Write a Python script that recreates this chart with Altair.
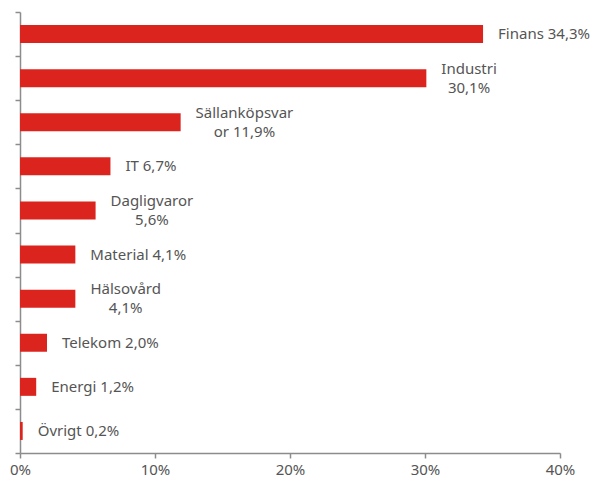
import altair as alt
import pandas as pd

categories = ["Finans", "Industri", "Sällanköpsvar", "IT", "Dagligvaror",
              "Material", "Hälsovård", "Telekom", "Energi", "Övrigt"]
values = [34.3, 30.1, 11.9, 6.7, 5.6, 4.1, 4.1, 2.0, 1.2, 0.2]
labels = ["Finans 34,3%", "Industri\n30,1%", "Sällanköpsvar\nor 11,9%", "IT 6,7%",
          "Dagligvaror\n5,6%", "Material 4,1%", "Hälsovård\n4,1%", "Telekom 2,0%",
          "Energi 1,2%", "Övrigt 0,2%"]
x_ticks = [0, 10, 20, 30, 40]

W, H = 540, 441
FONT = "Noto Sans"
FS = 15
GAP = 15
LH = 19
XMAX = 40

# approximate Noto Sans advance widths (per 1000 em) for centring wrapped labels
adv = {'a': 561, 'b': 615, 'c': 480, 'd': 615, 'e': 564, 'f': 344, 'g': 615, 'h': 618,
       'i': 258, 'k': 534, 'l': 258, 'm': 935, 'n': 618, 'o': 605, 'p': 615, 'r': 413,
       's': 479, 't': 361, 'u': 618, 'v': 508, 'y': 508, 'å': 561, 'ä': 561, 'ö': 605,
       ' ': 260, ',': 268, '%': 817, 'D': 700, 'H': 712, 'I': 331, 'S': 532}


def text_w(s):
    return sum(adv.get(ch, 572) for ch in s) * FS / 1000.0


px_per_unit = W / XMAX
rows = []
for c, v, lab in zip(categories, values, labels):
    wrapped = "\n" in lab
    w = max(text_w(line) for line in lab.split("\n"))
    lx = v + (GAP + w / 2) / px_per_unit if wrapped else v
    rows.append({"cat": c, "v": v, "label": lab, "wrapped": wrapped, "lx": lx})
df = pd.DataFrame(rows)

y_enc = alt.Y("cat:N", sort=categories,
              scale=alt.Scale(paddingInner=0, paddingOuter=0),
              axis=alt.Axis(title=None, labels=False, tickBand="extent", ticks=True,
                            tickSize=5, domainColor="#8c8c8c", tickColor="#8c8c8c",
                            domainWidth=1.5, tickWidth=1.5))
x_scale = alt.Scale(domain=[0, XMAX], nice=False)

base = alt.Chart(df)

bars = base.mark_bar(size=18, color="#dc241f").encode(
    x=alt.X("v:Q", scale=x_scale,
            axis=alt.Axis(title=None, values=x_ticks, format=".0f",
                          labelExpr="datum.value + '%'", grid=False, labelFlush=False,
                          tickSize=5, labelPadding=4, domainColor="#8c8c8c",
                          tickColor="#8c8c8c", domainWidth=1.5, tickWidth=1.5,
                          labelFont=FONT, labelFontSize=FS, labelColor="#555555")),
    y=y_enc,
)

single = base.transform_filter("!datum.wrapped").mark_text(
    align="left", baseline="middle", dx=GAP, font=FONT, fontSize=FS, color="#555555"
).encode(x=alt.X("v:Q", scale=x_scale), y=alt.Y("cat:N", sort=categories), text="label:N")

multi = base.transform_filter("datum.wrapped").mark_text(
    align="center", baseline="middle", lineBreak="\n", lineHeight=LH, dy=-LH / 2,
    font=FONT, fontSize=FS, color="#555555"
).encode(x=alt.X("lx:Q", scale=x_scale), y=alt.Y("cat:N", sort=categories), text="label:N")

chart = alt.layer(bars, single, multi).properties(
    width=W, height=H,
    autosize=alt.AutoSizeParams(type="none"),
    padding={"left": 12, "top": 4, "right": 32, "bottom": 26},
).configure_view(stroke=None).configure_axis(labelFont=FONT)

chart.save("out.html", embed_options={"renderer": "svg", "actions": False})
